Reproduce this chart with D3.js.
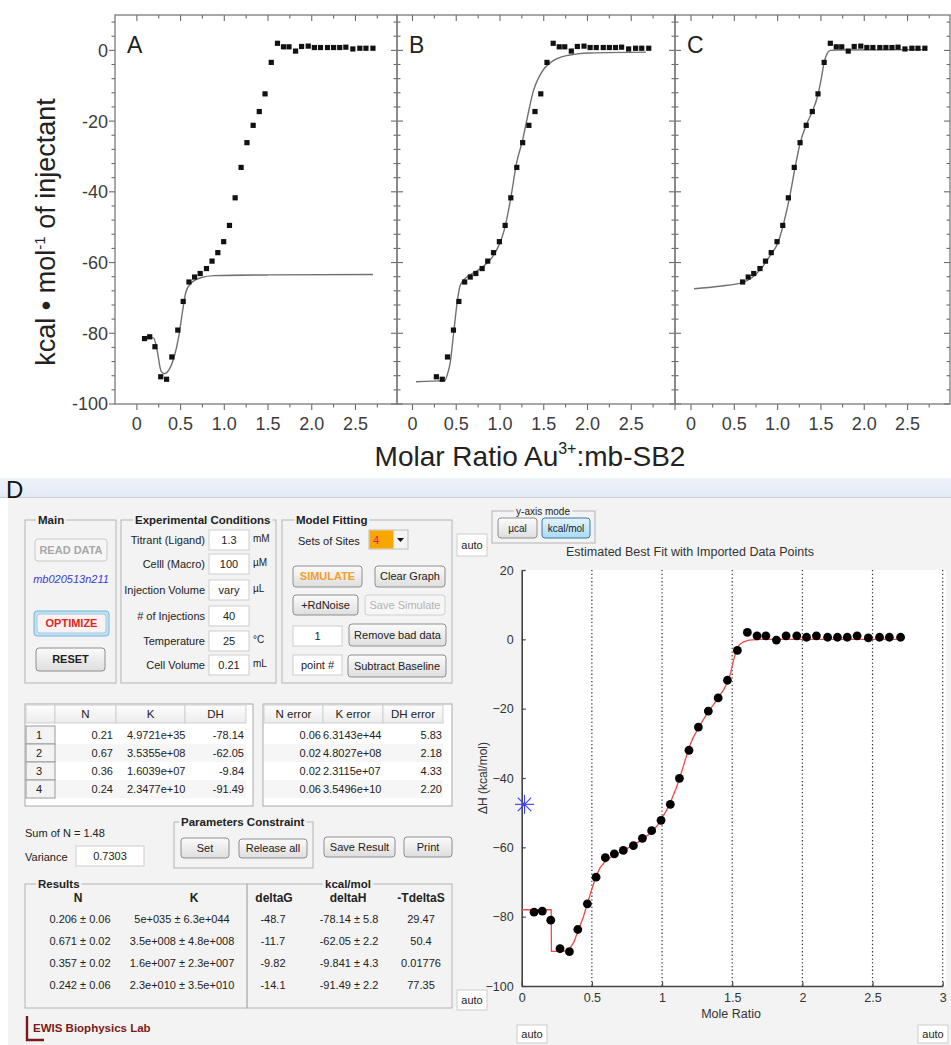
<!DOCTYPE html>
<html>
<head>
<meta charset="utf-8">
<script src="https://cdn.jsdelivr.net/npm/d3@7"></script>
<style>
  body { margin: 0; background: #fff; }
  svg { display: block; }
</style>
</head>
<body>
<div id="fig"></div>
<script>
var W = 951, H = 1045;

// injection mole ratios, shared by every panel
var ratio = [0.088, 0.147, 0.207, 0.273, 0.34, 0.40, 0.468, 0.53, 0.596, 0.66,
  0.724, 0.796, 0.86, 0.926, 0.993, 1.059, 1.124, 1.192, 1.259, 1.33,
  1.40, 1.466, 1.537, 1.608, 1.677, 1.74, 1.815, 1.884, 1.96, 2.03,
  2.10, 2.18, 2.25, 2.32, 2.39, 2.47, 2.55, 2.62, 2.70];

// integrated heats as plotted in A-C (kcal/mol of injectant)
var heatOrigin = [-81.5, -81.0, -83.8, -92.3, -93.0, -86.7, -79.1, -71.0, -65.5, -64.1,
  -63.1, -61.7, -59.6, -57.2, -54.1, -49.5, -41.7, -33.1, -26.1, -21.2,
  -17.3, -12.3, -3.4, 2.0, 1.0, 1.0, -0.2, 1.1, 1.2, 0.8,
  0.8, 0.8, 0.8, 0.8, 0.9, 0.4, 0.6, 0.6, 0.6];

// the same run as shown in the fitting program (D)
var heatD = [-78.7, -78.4, -81.0, -89.2, -90.1, -83.7, -76.3, -68.6, -63.0, -61.9,
  -60.9, -59.5, -57.4, -55.2, -52.2, -47.6, -40.1, -32.0, -25.3, -20.7,
  -16.9, -11.8, -3.2, 2.0, 1.0, 1.0, -0.2, 1.0, 1.0, 0.6,
  1.0, 0.6, 0.6, 0.6, 1.0, 0.4, 0.6, 0.6, 0.6];

// fitted curves [mole ratio, kcal/mol]
var fitA = [[0.06,-81.3],[0.19,-81.3],[0.23,-84.6],[0.277,-90.7],[0.315,-91.4],[0.365,-90.4],
  [0.423,-87.0],[0.48,-80.8],[0.52,-74.2],[0.558,-68.6],[0.615,-65.9],[0.73,-64.3],
  [0.885,-63.7],[1.5,-63.5],[2.7,-63.4]];
var fitB = [[0.04,-93.7],[0.37,-93.4],[0.40,-91.5],[0.43,-88.5],[0.47,-80],[0.515,-70.5],
  [0.545,-66.5],[0.60,-64.6],[0.73,-62.5],[0.85,-60.2],[0.93,-57.8],[0.99,-55],
  [1.05,-50.7],[1.12,-42.2],[1.19,-31.8],[1.26,-25.2],[1.30,-20.5],[1.34,-15.8],
  [1.38,-11.6],[1.44,-7.8],[1.51,-5.0],[1.61,-2.9],[1.76,-1.5],[2.03,-0.75],[2.67,-0.5]];
var fitC = [[0.035,-67.4],[0.33,-66.7],[0.60,-65.6],[0.80,-62],[0.91,-58.2],[1.01,-54],
  [1.08,-47.9],[1.14,-41.3],[1.20,-33.3],[1.26,-26.2],[1.33,-21.1],[1.40,-17.3],
  [1.467,-12.4],[1.50,-8.5],[1.537,-3.4],[1.57,-1.0],[1.61,0],[1.7,0.1],[2.71,0.2]];
var fitD = [[0,-78],[0.21,-78],[0.212,-90],[0.30,-90],[0.34,-89.3],[0.37,-87.5],[0.40,-84.3],
  [0.44,-80],[0.47,-76],[0.50,-72],[0.53,-68.3],[0.56,-65.8],[0.60,-63.8],[0.66,-62.2],
  [0.73,-60.8],[0.80,-59.3],[0.86,-57.7],[0.93,-55.5],[0.97,-53.5],[1.0,-51.5],[1.03,-49.5],
  [1.06,-47],[1.10,-43],[1.13,-39.5],[1.16,-35.5],[1.19,-31.5],[1.22,-28.5],[1.26,-25.5],
  [1.30,-22.8],[1.33,-20.8],[1.37,-18.7],[1.40,-16.8],[1.44,-14.5],[1.47,-12],[1.49,-9.5],
  [1.51,-6],[1.53,-3],[1.55,-1.6],[1.58,-0.7],[1.62,-0.2],[1.7,0],[2.7,0]];
var guessD = [[0.02, -47.6]];

// program fields
var condLabels = ["Titrant (Ligand)", "Celll (Macro)", "Injection Volume", "# of Injections", "Temperature", "Cell Volume"];
var condValues = ["1.3", "100", "vary", "40", "25", "0.21"];
var condUnits = ["mM", "µM", "µL", "", "°C", "mL"];

var siteNo = ["1", "2", "3", "4"];
var fitN = ["0.21", "0.67", "0.36", "0.24"];
var fitK = ["4.9721e+35", "3.5355e+08", "1.6039e+07", "2.3477e+10"];
var fitDH = ["-78.14", "-62.05", "-9.84", "-91.49"];
var errN = ["0.06", "0.02", "0.02", "0.06"];
var errK = ["6.3143e+44", "4.8027e+08", "2.3115e+07", "3.5496e+10"];
var errDH = ["5.83", "2.18", "4.33", "2.20"];

var resN = ["0.206 ± 0.06", "0.671 ± 0.02", "0.357 ± 0.02", "0.242 ± 0.06"];
var resK = ["5e+035 ± 6.3e+044", "3.5e+008 ± 4.8e+008", "1.6e+007 ± 2.3e+007", "2.3e+010 ± 3.5e+010"];
var resG = ["-48.7", "-11.7", "-9.82", "-14.1"];
var resH = ["-78.14 ± 5.8", "-62.05 ± 2.2", "-9.841 ± 4.3", "-91.49 ± 2.2"];
var resTS = ["29.47", "50.4", "0.01776", "77.35"];

var topXTicks = [0, 0.5, 1.0, 1.5, 2.0, 2.5];
var topYTicks = [0, -20, -40, -60, -80, -100];
var dXTicks = [0, 0.5, 1, 1.5, 2, 2.5, 3];
var dYTicks = [20, 0, -20, -40, -60, -80, -100];

var svg = d3.select("#fig").append("svg")
  .attr("width", W)
  .attr("height", H)
  .style("font-family", "'Liberation Sans', Arial, sans-serif");

var defs = svg.append("defs");
function grad(id, c1, c2) {
  var lg = defs.append("linearGradient").attr("id", id)
    .attr("x1", 0).attr("y1", 0).attr("x2", 0).attr("y2", 1);
  lg.append("stop").attr("offset", "0%").attr("stop-color", c1);
  lg.append("stop").attr("offset", "100%").attr("stop-color", c2);
}
grad("btn", "#fbfbfb", "#dedede");
grad("btnBlue", "#e3f3fc", "#a9dbf6");
grad("head", "#fdfdfd", "#ececec");
grad("bar", "#eef3fa", "#e2eaf5");

svg.append("rect").attr("width", W).attr("height", H).attr("fill", "#fff");

// ---------- panels A, B, C ----------
var yTop = d3.scaleLinear().domain([-100, 10]).range([404, 15]);
var panels = [
  { letter: "A", x0: 115, x1: 397, xMin: -0.25, xMax: 2.975, from: 0, fit: fitA },
  { letter: "B", x0: 397, x1: 675, xMin: -0.177, xMax: 3.0, from: 3, fit: fitB },
  { letter: "C", x0: 675, x1: 950, xMin: -0.185, xMax: 2.99, from: 8, fit: fitC }
];

panels.forEach(function(p, k) {
  var x = d3.scaleLinear().domain([p.xMin, p.xMax]).range([p.x0, p.x1]);
  var g = svg.append("g");
  var tc = "#6a6a6a";

  // x minor/major ticks, top (inward) and bottom (outward)
  d3.range(0, p.xMax + 0.001, 0.25).forEach(function(v) {
    var major = Math.abs(v * 2 - Math.round(v * 2)) < 1e-6;
    var len = major ? 6 : 3.5;
    g.append("line").attr("x1", x(v)).attr("x2", x(v))
      .attr("y1", yTop.range()[1]).attr("y2", yTop.range()[1] + len)
      .attr("stroke", tc).attr("stroke-width", 1.1);
    g.append("line").attr("x1", x(v)).attr("x2", x(v))
      .attr("y1", yTop.range()[0]).attr("y2", yTop.range()[0] + len)
      .attr("stroke", tc).attr("stroke-width", 1.1);
  });

  // y ticks on both sides
  d3.range(-100, 10, 4).forEach(function(v) {
    var major = v % 20 === 0;
    var len = major ? 6 : 3.5;
    var dirL = k === 0 ? -1 : 1;
    g.append("line").attr("x1", p.x0).attr("x2", p.x0 + dirL * len)
      .attr("y1", yTop(v)).attr("y2", yTop(v))
      .attr("stroke", tc).attr("stroke-width", 1.1);
    g.append("line").attr("x1", p.x1).attr("x2", p.x1 - len)
      .attr("y1", yTop(v)).attr("y2", yTop(v))
      .attr("stroke", tc).attr("stroke-width", 1.1);
  });

  g.append("rect")
    .attr("x", p.x0).attr("y", yTop.range()[1])
    .attr("width", p.x1 - p.x0).attr("height", yTop.range()[0] - yTop.range()[1])
    .attr("fill", "none").attr("stroke", "#7a7a7a").attr("stroke-width", 1.3);

  g.selectAll(".xl").data(topXTicks).enter().append("text")
    .attr("x", function(d) { return x(d); })
    .attr("y", 430)
    .attr("text-anchor", "middle")
    .attr("font-size", 18)
    .attr("fill", "#3c3c3c")
    .text(function(d) { return d === 0 ? "0" : d3.format(".1f")(d); });

  if (k === 0) {
    g.selectAll(".yl").data(topYTicks).enter().append("text")
      .attr("x", 108)
      .attr("y", function(d) { return yTop(d); })
      .attr("dy", "0.36em")
      .attr("text-anchor", "end")
      .attr("font-size", 18)
      .attr("fill", "#3c3c3c")
      .text(function(d) { return d; });
  }

  var line = d3.line()
    .x(function(d) { return x(d[0]); })
    .y(function(d) { return yTop(d[1]); })
    .curve(d3.curveMonotoneX);
  g.append("path").attr("d", line(p.fit))
    .attr("fill", "none").attr("stroke", "#707070").attr("stroke-width", 1.4);

  var pts = ratio.slice(p.from).map(function(r, i) { return [r, heatOrigin[p.from + i]]; });
  g.selectAll(".pt").data(pts).enter().append("rect")
    .attr("x", function(d) { return x(d[0]) - 2.6; })
    .attr("y", function(d) { return yTop(d[1]) - 2.6; })
    .attr("width", 5.2).attr("height", 5.2)
    .attr("fill", "#111");

  g.append("text")
    .attr("x", p.x0 + 12).attr("y", 53)
    .attr("font-size", 23).attr("fill", "#222")
    .text(p.letter);
});

var yLab = svg.append("text")
  .attr("transform", "translate(55,232) rotate(-90)")
  .attr("text-anchor", "middle")
  .attr("font-size", 27).attr("fill", "#222");
yLab.append("tspan").text("kcal • mol");
yLab.append("tspan").attr("font-size", 15).attr("dy", -10).text("-1");
yLab.append("tspan").attr("dy", 10).text(" of injectant");

var xLab = svg.append("text")
  .attr("x", 530).attr("y", 466)
  .attr("text-anchor", "middle")
  .attr("font-size", 28).attr("fill", "#222");
xLab.append("tspan").text("Molar Ratio Au");
xLab.append("tspan").attr("font-size", 16).attr("dy", -12).text("3+");
xLab.append("tspan").attr("dy", 12).text(":mb-SB2");

// ---------- panel D : fitting program ----------
var bg = "#f3f3f3";
svg.append("rect").attr("x", 0).attr("y", 478).attr("width", W).attr("height", 20).attr("fill", "url(#bar)");
svg.append("line").attr("x1", 0).attr("x2", W).attr("y1", 497.5).attr("y2", 497.5).attr("stroke", "#c9cfd8");
svg.append("rect").attr("x", 8).attr("y", 498).attr("width", W - 8).attr("height", H - 498).attr("fill", bg);
svg.append("text").attr("x", 6).attr("y", 498).attr("font-size", 24).attr("fill", "#111").text("D");

var ui = svg.append("g").attr("font-size", 11).attr("fill", "#222");

function groupBox(x, y, w, h, title, tx, anchor, size) {
  ui.append("rect").attr("x", x).attr("y", y).attr("width", w).attr("height", h)
    .attr("fill", "none").attr("stroke", "#b4b4b4");
  var t = ui.append("text").attr("x", tx).attr("y", y + 4)
    .attr("text-anchor", anchor || "start")
    .attr("font-weight", size ? "normal" : "bold")
    .attr("font-size", size || 11.5).text(title);
  var bb = t.node().getBBox();
  ui.insert("rect", function() { return t.node(); })
    .attr("x", bb.x - 2).attr("y", y - 2).attr("width", bb.width + 4).attr("height", 4)
    .attr("fill", bg);
}

function button(x, y, w, h, label, opt) {
  opt = opt || {};
  ui.append("rect").attr("x", x).attr("y", y).attr("width", w).attr("height", h).attr("rx", 3)
    .attr("fill", opt.fill || "url(#btn)")
    .attr("stroke", opt.stroke || "#8e8e8e");
  ui.append("text").attr("x", x + w / 2).attr("y", y + h / 2).attr("dy", "0.36em")
    .attr("text-anchor", "middle")
    .attr("font-weight", opt.bold ? "bold" : "normal")
    .attr("font-size", opt.size || 11)
    .attr("fill", opt.color || "#222")
    .text(label);
}

function field(x, y, w, h, val) {
  ui.append("rect").attr("x", x).attr("y", y).attr("width", w).attr("height", h)
    .attr("fill", "#fff").attr("stroke", "#cdcdcd");
  ui.append("text").attr("x", x + w / 2).attr("y", y + h / 2).attr("dy", "0.36em")
    .attr("text-anchor", "middle").text(val);
}

// Main
groupBox(25, 520, 91, 163, "Main", 38);
button(35, 539, 72, 22, "READ DATA", { fill: "#f6f6f6", stroke: "#cacaca", color: "#a8a8a8", bold: true });
ui.append("text").attr("x", 71).attr("y", 583).attr("text-anchor", "middle")
  .attr("font-style", "italic").attr("fill", "#3a3ad0").text("mb020513n211");
ui.append("rect").attr("x", 34).attr("y", 611).attr("width", 75).attr("height", 25).attr("rx", 3)
  .attr("fill", "#bfe3f5").attr("stroke", "#79b5d8");
button(37, 614, 69, 19, "OPTIMIZE", { fill: "#fdf2f2", stroke: "#9ec9e3", color: "#e02424", bold: true });
button(36, 648, 69, 23, "RESET", { bold: true });

// Experimental Conditions
groupBox(121, 520, 155, 163, "Experimental Conditions", 135);
condLabels.forEach(function(lab, i) {
  var cy = [540, 564, 590, 616, 641, 665][i];
  ui.append("text").attr("x", 205).attr("y", cy).attr("dy", "0.36em")
    .attr("text-anchor", "end").text(lab);
  field(209, cy - 10, 40, 20, condValues[i]);
  ui.append("text").attr("x", 253).attr("y", cy).attr("dy", "0.2em").attr("font-size", 10).text(condUnits[i]);
});

// Model Fitting
groupBox(282, 520, 170, 163, "Model Fitting", 296);
ui.append("text").attr("x", 298).attr("y", 541).attr("dy", "0.36em").text("Sets of Sites");
ui.append("rect").attr("x", 369).attr("y", 530).attr("width", 39).attr("height", 19)
  .attr("fill", "#f4f4f4").attr("stroke", "#bdbdbd");
ui.append("rect").attr("x", 369.5).attr("y", 530.5).attr("width", 24).attr("height", 18).attr("fill", "#f7a600");
ui.append("text").attr("x", 373).attr("y", 540).attr("dy", "0.36em").attr("fill", "#e5186a").text("4");
ui.append("path").attr("d", "M397,538 L404,538 L400.5,542 Z").attr("fill", "#111");
button(293, 566, 69, 21, "SIMULATE", { color: "#f0a02c", bold: true });
button(375, 566, 70, 21, "Clear Graph");
button(293, 595, 65, 20, "+RdNoise");
button(365, 595, 80, 20, "Save Simulate", { fill: "#f6f6f6", stroke: "#d0d0d0", color: "#b3b3b3" });
field(293, 626, 49, 20, "1");
button(349, 624, 97, 22, "Remove bad data");
field(293, 655, 49, 20, "point #");
button(348, 655, 98, 22, "Subtract Baseline");

field(457, 534, 30, 22, "auto");

// parameter tables
function table(x, w, cols, rows) {
  ui.append("rect").attr("x", x).attr("y", 704).attr("width", w).attr("height", 102)
    .attr("fill", "#fff").attr("stroke", "#a9a9a9");
  cols.forEach(function(c) {
    ui.append("rect").attr("x", c.x0).attr("y", 705).attr("width", c.x1 - c.x0).attr("height", 18)
      .attr("fill", "url(#head)").attr("stroke", "#cfcfcf");
    ui.append("text").attr("x", (c.x0 + c.x1) / 2).attr("y", 714).attr("dy", "0.36em")
      .attr("text-anchor", "middle").attr("font-size", 11.5).text(c.name);
  });
  rows.forEach(function(r, i) {
    var cy = 735 + i * 18;
    if (i % 2 === 1) {
      ui.append("rect").attr("x", x + 1).attr("y", cy - 9).attr("width", cols[cols.length - 1].x1 - x - 1)
        .attr("height", 18).attr("fill", "#f6f6f6");
    }
    r.forEach(function(c) {
      ui.append("text").attr("x", c.x).attr("y", cy).attr("dy", "0.36em")
        .attr("text-anchor", c.a).text(c.t);
    });
  });
}

table(25, 228,
  [{ x0: 26, x1: 55, name: "" }, { x0: 55, x1: 116, name: "N" }, { x0: 116, x1: 185, name: "K" }, { x0: 185, x1: 246, name: "DH" }],
  siteNo.map(function(s, i) {
    return [{ x: 113, a: "end", t: fitN[i] }, { x: 127, a: "start", t: fitK[i] }, { x: 244, a: "end", t: fitDH[i] }];
  }));
siteNo.forEach(function(s, i) {
  var cy = 735 + i * 18;
  ui.append("rect").attr("x", 26).attr("y", cy - 9).attr("width", 29).attr("height", 18)
    .attr("fill", "#f3f3f3").attr("stroke", "#9a9a9a");
  ui.append("text").attr("x", 36).attr("y", cy).attr("dy", "0.36em").text(s);
});

table(263, 189,
  [{ x0: 264, x1: 323, name: "N error" }, { x0: 323, x1: 383, name: "K error" }, { x0: 383, x1: 443, name: "DH error" }],
  errN.map(function(s, i) {
    return [{ x: 321, a: "end", t: errN[i] }, { x: 323, a: "start", t: errK[i] }, { x: 442, a: "end", t: errDH[i] }];
  }));

// sum / variance / constraints
ui.append("text").attr("x", 25).attr("y", 833).attr("dy", "0.36em").text("Sum of N = 1.48");
ui.append("text").attr("x", 25).attr("y", 857).attr("dy", "0.36em").text("Variance");
field(76, 846, 68, 20, "0.7303");
groupBox(174, 822, 139, 46, "Parameters Constraint", 181);
button(181, 838, 48, 20, "Set");
button(239, 839, 68, 19, "Release all");
button(324, 837, 71, 20, "Save Result");
button(404, 837, 48, 20, "Print");

// Results
groupBox(25, 884, 222, 124, "Results", 38);
groupBox(247, 884, 205, 124, "kcal/mol", 348, "middle");
var resHeads = [["N", 78], ["K", 194], ["deltaG", 274], ["deltaH", 348], ["-TdeltaS", 421]];
resHeads.forEach(function(h) {
  ui.append("text").attr("x", h[1]).attr("y", 898).attr("dy", "0.36em")
    .attr("text-anchor", "middle").attr("font-weight", "bold").attr("font-size", 12).text(h[0]);
});
resN.forEach(function(s, i) {
  var cy = [919, 941, 963, 985][i];
  [[resN[i], 80], [resK[i], 182], [resG[i], 273], [resH[i], 349], [resTS[i], 421]].forEach(function(c) {
    ui.append("text").attr("x", c[1]).attr("y", cy).attr("dy", "0.36em")
      .attr("text-anchor", "middle").text(c[0]);
  });
});
field(457, 990, 30, 20, "auto");

// lab logo
ui.append("path").attr("d", "M27,1016 L27,1040 L44,1040").attr("fill", "none")
  .attr("stroke", "#7b1a1a").attr("stroke-width", 2.4);
ui.append("text").attr("x", 33).attr("y", 1032).attr("font-weight", "bold")
  .attr("font-size", 11.5).attr("fill", "#7b1a1a").text("EWIS Biophysics Lab");

// y-axis mode
groupBox(492, 511, 103, 32, "y-axis mode", 543, "middle", 10);
button(498, 518, 39, 20, "µcal", { size: 10 });
button(542, 518, 48, 20, "kcal/mol", { size: 10, fill: "url(#btnBlue)", stroke: "#3b79a8" });

// ----- fit plot -----
var xD = d3.scaleLinear().domain([0, 3]).range([521.7, 942.7]);
var yD = d3.scaleLinear().domain([-100, 20]).range([986, 570]);
var plot = svg.append("g");

plot.append("rect").attr("x", xD(0)).attr("y", yD(20))
  .attr("width", 946 - xD(0)).attr("height", yD(-100) - yD(20)).attr("fill", "#fff");

plot.selectAll(".grid").data(dXTicks.slice(1)).enter().append("line")
  .attr("x1", function(d) { return xD(d); }).attr("x2", function(d) { return xD(d); })
  .attr("y1", yD(20)).attr("y2", yD(-100))
  .attr("stroke", "#333").attr("stroke-width", 1.2).attr("stroke-dasharray", "1.3,2.4");

var ax = plot.append("g").attr("transform", "translate(0," + yD(-100) + ")")
  .call(d3.axisBottom(xD).tickValues(dXTicks).tickFormat(d3.format("")).tickSizeInner(-4).tickSizeOuter(0).tickPadding(7));
var ay = plot.append("g").attr("transform", "translate(" + xD(0) + ",0)")
  .call(d3.axisLeft(yD).tickValues(dYTicks).tickSizeInner(-4).tickSizeOuter(0).tickPadding(8));
[ax, ay].forEach(function(a) {
  a.select(".domain").attr("stroke", "#444").attr("stroke-width", 1.6);
  a.selectAll(".tick line").attr("stroke", "#444").attr("stroke-width", 1.2);
  a.selectAll(".tick text").attr("font-size", 12.5).attr("fill", "#333")
    .attr("font-family", "'Liberation Sans', Arial, sans-serif");
});

var lineD = d3.line().x(function(d) { return xD(d[0]); }).y(function(d) { return yD(d[1]); });
plot.append("path").attr("d", lineD(fitD))
  .attr("fill", "none").attr("stroke", "#ef4a4a").attr("stroke-width", 1.3);

plot.selectAll(".dot").data(ratio).enter().append("circle")
  .attr("cx", function(d) { return xD(d); })
  .attr("cy", function(d, i) { return yD(heatD[i]); })
  .attr("r", 4.4).attr("fill", "#000");

guessD.forEach(function(d) {
  var cx = xD(d[0]), cy = yD(d[1]);
  [0, 45, 90, 135].forEach(function(a) {
    var r = a * Math.PI / 180, L = 9.5;
    plot.append("line")
      .attr("x1", cx - L * Math.cos(r)).attr("y1", cy - L * Math.sin(r))
      .attr("x2", cx + L * Math.cos(r)).attr("y2", cy + L * Math.sin(r))
      .attr("stroke", "#3d3dff").attr("stroke-width", 1.1);
  });
});

plot.append("text").attr("x", 690).attr("y", 556).attr("text-anchor", "middle")
  .attr("font-size", 12.5).attr("fill", "#333").text("Estimated Best Fit with Imported Data Points");
plot.append("text").attr("x", 731).attr("y", 1018).attr("text-anchor", "middle")
  .attr("font-size", 12.5).attr("fill", "#333").text("Mole Ratio");
plot.append("text").attr("transform", "translate(487,778) rotate(-90)").attr("text-anchor", "middle")
  .attr("font-size", 12).attr("fill", "#333").text("ΔH (kcal/mol)");

field(517, 1025, 30, 18, "auto");
field(918, 1025, 30, 18, "auto");
</script>
</body>
</html>
